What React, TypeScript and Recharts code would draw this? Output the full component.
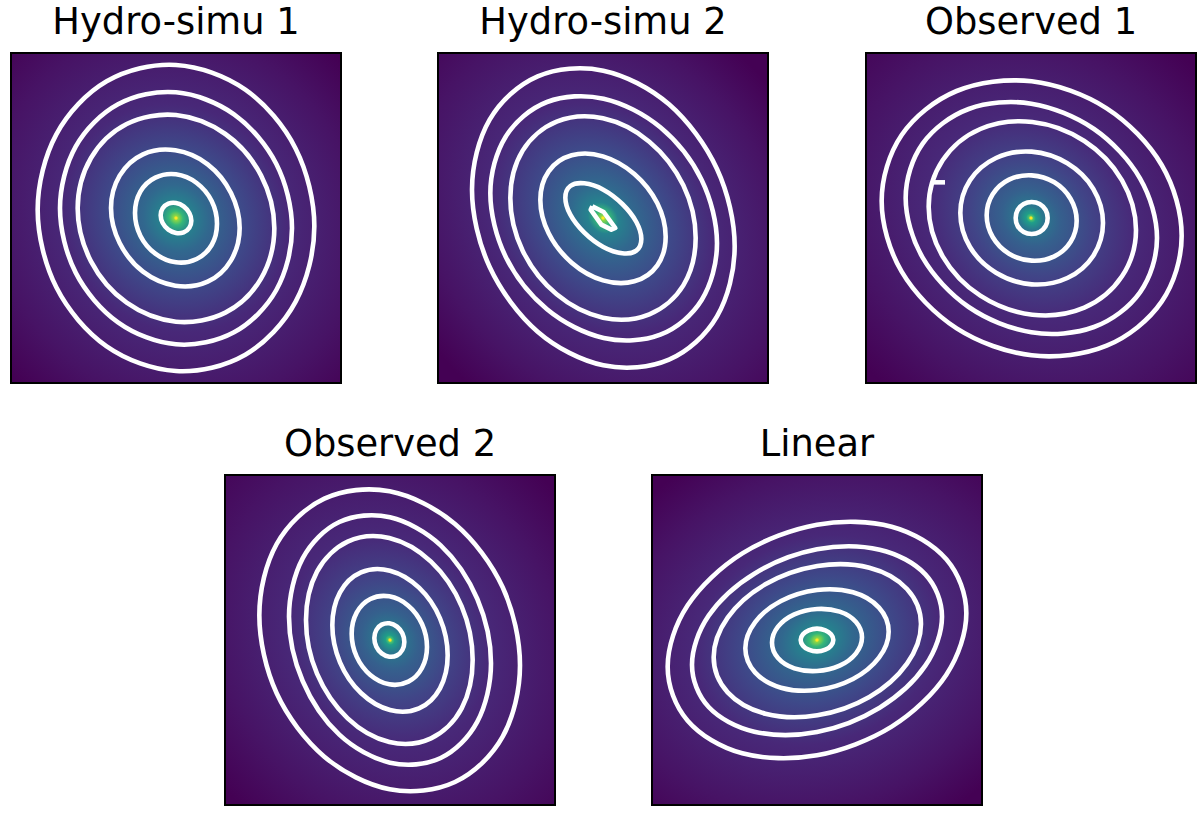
import { ComposedChart, Line, XAxis, YAxis, ReferenceArea, ReferenceDot } from "recharts"

type Pt = [number, number]

// contour points (image units, y grows downward)
const hydro1Rings: Pt[][] = [
  [[925,535],[869,761],[718,920],[510,969],[302,895],[151,718],[95,485],[151,259],[302,100],[510,51],[718,125],[869,302]],
  [[858,541],[811,726],[684,853],[510,889],[336,823],[209,674],[162,481],[209,296],[336,169],[510,133],[684,199],[811,348]],
  [[805,541],[765,692],[658,794],[510,821],[362,764],[255,640],[215,481],[255,330],[362,228],[510,201],[658,258],[765,382]],
  [[701,540],[675,637],[605,701],[508,713],[411,671],[341,585],[315,480],[341,383],[411,319],[508,307],[605,349],[675,435]],
  [[633,527],[617,591],[572,633],[510,643],[448,617],[403,563],[387,495],[403,431],[448,389],[510,379],[572,405],[617,459]],
  [[556,518],[550,539],[533,553],[510,555],[487,545],[470,525],[464,502],[470,481],[487,467],[510,465],[533,475],[550,495]],
]

const hydro2Rings: Pt[][] = [
  [[905,595],[852,805],[708,935],[511,952],[314,851],[170,657],[117,425],[170,215],[314,85],[511,68],[708,169],[852,363]],
  [[852,586],[806,756],[682,860],[512,870],[342,784],[218,626],[172,436],[218,266],[342,162],[512,152],[682,238],[806,396]],
  [[788,570],[751,712],[649,799],[510,809],[371,739],[269,608],[232,450],[269,308],[371,221],[510,211],[649,281],[751,412]],
  [[698,566],[673,652],[604,700],[510,697],[416,644],[347,556],[322,456],[347,370],[416,322],[510,325],[604,378],[673,466]],
  [[625,573],[610,608],[568,616],[511,597],[454,554],[412,500],[397,449],[412,414],[454,406],[511,425],[568,468],[610,522]],
]
const hydro2Core: Pt[] = [[478,475],[512,492],[547,540],[535,545],[505,530],[473,485],[478,475]]

const observed1Rings: Pt[][] = [
  [[962,563],[902,761],[737,893],[512,922],[287,841],[122,671],[62,459],[122,261],[287,129],[512,100],[737,181],[902,351]],
  [[888,570],[837,733],[699,837],[511,853],[323,777],[185,629],[134,450],[185,287],[323,183],[511,167],[699,243],[837,391]],
  [[825,546],[783,685],[670,779],[514,800],[358,743],[245,625],[203,476],[245,337],[358,243],[514,222],[670,279],[783,397]],
  [[726,525],[697,623],[619,690],[512,709],[405,674],[327,597],[298,495],[327,397],[405,330],[512,311],[619,346],[697,423]],
  [[647,518],[629,581],[580,625],[512,638],[444,617],[395,567],[377,502],[395,439],[444,395],[512,382],[580,403],[629,453]],
  [[560,510],[554,534],[536,552],[512,558],[488,552],[470,534],[464,510],[470,486],[488,468],[512,462],[536,468],[554,486]],
]
const observed1Stub: Pt[] = [[215,403],[252,403]]

const observed2Rings: Pt[][] = [
  [[900,586],[848,800],[705,936],[509,958],[313,860],[170,670],[118,436],[170,222],[313,86],[509,64],[705,162],[848,352]],
  [[813,580],[772,755],[662,864],[510,878],[358,794],[248,633],[207,440],[248,265],[358,156],[510,142],[662,226],[772,387]],
  [[758,570],[725,715],[633,805],[508,816],[383,745],[291,611],[258,450],[291,305],[383,215],[508,204],[633,275],[725,409]],
  [[683,556],[660,655],[597,715],[510,720],[423,669],[360,577],[337,466],[360,367],[423,307],[510,302],[597,353],[660,445]],
  [[621,531],[606,594],[565,635],[508,643],[451,615],[410,560],[395,491],[410,428],[451,387],[508,379],[565,407],[606,462]],
  [[553,516],[547,540],[531,556],[508,560],[485,550],[469,530],[463,504],[469,480],[485,464],[508,460],[531,470],[547,490]],
]

const linearRings: Pt[][] = [
  [[958,430],[898,614],[734,770],[510,856],[286,850],[122,752],[62,590],[122,406],[286,250],[510,164],[734,170],[898,268]],
  [[885,440],[835,587],[698,713],[510,786],[322,785],[185,711],[135,584],[185,437],[322,311],[510,238],[698,239],[835,313]],
  [[822,462],[780,581],[667,681],[511,736],[355,731],[242,667],[200,562],[242,443],[355,343],[511,288],[667,293],[780,357]],
  [[725,485],[696,563],[618,627],[510,660],[402,653],[324,607],[295,535],[324,457],[402,393],[510,360],[618,367],[696,413]],
  [[645,502],[627,550],[578,587],[510,603],[442,595],[393,564],[375,518],[393,470],[442,433],[510,417],[578,425],[627,456]],
  [[559,510],[552,527],[535,539],[510,544],[485,539],[468,527],[461,510],[468,493],[485,481],[510,476],[535,481],[552,493]],
]

// radial profiles of the image: [offset, colour]
const broadStops: [number, string][] = [[0,"#fde725"],[0.01,"#8bd646"],[0.03,"#35b779"],[0.065,"#26828e"],[0.14,"#31688e"],[0.29,"#3e4989"],[0.48,"#482878"],[0.78,"#471365"],[1,"#440154"]]
const narrowStops: [number, string][] = [[0,"#fde725"],[0.01,"#4ac16d"],[0.02,"#1f9e89"],[0.05,"#2a788e"],[0.12,"#35608d"],[0.25,"#414487"],[0.43,"#482878"],[0.75,"#471365"],[1,"#440154"]]

// closed catmull-rom, so the rings have no seam
function closedCurve(context: any) {
  let pts: Pt[] = []
  return {
    areaStart() {},
    areaEnd() {},
    lineStart() { pts = [] },
    point(x: number, y: number) { pts.push([x, y]) },
    lineEnd() {
      const n = pts.length
      const at = (i: number) => pts[(i + n) % n]
      context.moveTo(pts[0][0], pts[0][1])
      for (let i = 0; i < n; i++) {
        const [p0, p1, p2, p3] = [at(i - 1), at(i), at(i + 1), at(i + 2)]
        context.bezierCurveTo(
          p1[0] + (p2[0] - p0[0]) / 6,
          p1[1] + (p2[1] - p0[1]) / 6,
          p2[0] - (p3[0] - p1[0]) / 6,
          p2[1] - (p3[1] - p1[1]) / 6,
          p2[0],
          p2[1]
        )
      }
      context.closePath()
    },
  }
}

const toRows = (pts: Pt[]) => pts.map(([x, y]) => ({ x, y }))

const DOMAIN: [number, number] = [18, 1002]
const SIZE = 328

interface PanelProps {
  id: string
  title: string
  left: number
  top: number
  rings: Pt[][]
  stops: [number, string][]
  transform: string
  extra?: Pt[][]
}

function Panel({ id, title, left, top, rings, stops, transform, extra = [] }: PanelProps) {
  return (
    <>
      <div
        style={{
          position: "absolute",
          left: left - 40,
          width: SIZE + 84,
          top: top - 50,
          textAlign: "center",
          fontFamily: "DejaVu Sans",
          fontSize: 36.8,
          lineHeight: "40px",
          color: "#000",
        }}
      >
        {title}
      </div>
      <div style={{ position: "absolute", left, top, width: SIZE, height: SIZE, border: "2px solid #000" }}>
        <ComposedChart width={SIZE} height={SIZE} margin={{ top: 0, right: 0, bottom: 0, left: 0 }}>
          <defs>
            <radialGradient id={id} cx="0.5" cy="0.5" r="0.72" gradientTransform={transform}>
              {stops.map(([offset, color]) => (
                <stop key={offset} offset={offset} stopColor={color} />
              ))}
            </radialGradient>
          </defs>
          <XAxis type="number" dataKey="x" domain={DOMAIN} hide allowDataOverflow />
          <YAxis type="number" dataKey="y" domain={DOMAIN} reversed hide allowDataOverflow />
          <ReferenceArea x1={DOMAIN[0]} x2={DOMAIN[1]} y1={DOMAIN[0]} y2={DOMAIN[1]} fill={`url(#${id})`} fillOpacity={1} stroke="none" />
          {rings.map((ring, i) => (
            <Line
              key={i}
              data={toRows(ring)}
              dataKey="y"
              type={closedCurve as any}
              stroke="#fff"
              strokeWidth={4.6}
              dot={false}
              activeDot={false}
              isAnimationActive={false}
            />
          ))}
          {extra.map((seg, i) => (
            <Line
              key={`x${i}`}
              data={toRows(seg)}
              dataKey="y"
              type="linear"
              stroke="#fff"
              strokeWidth={4.6}
              strokeLinejoin="round"
              dot={false}
              activeDot={false}
              isAnimationActive={false}
            />
          ))}
          <ReferenceDot x={510} y={510} r={1.5} fill="#fde725" stroke="none" />
        </ComposedChart>
      </div>
    </>
  )
}

export default function App() {
  return (
    <div style={{ position: "absolute", left: 0, top: 0, width: 1200, height: 814, background: "#fff", overflow: "hidden" }}>
      <Panel id="g1" title="Hydro-simu 1" left={10} top={52} rings={hydro1Rings} stops={broadStops}
        transform="translate(.5 .5) rotate(50) scale(1.04 .96) translate(-.5 -.5)" />
      <Panel id="g2" title="Hydro-simu 2" left={437} top={52} rings={hydro2Rings} stops={broadStops}
        transform="translate(.5 .5) rotate(50) scale(1.1 .9) translate(-.5 -.5)" extra={[hydro2Core]} />
      <Panel id="g3" title="Observed 1" left={865} top={52} rings={observed1Rings} stops={narrowStops}
        transform="translate(.5 .5) rotate(40) scale(1.08 .94) translate(-.5 -.5)" extra={[observed1Stub]} />
      <Panel id="g4" title="Observed 2" left={224} top={474} rings={observed2Rings} stops={narrowStops}
        transform="translate(.5 .5) rotate(55) scale(1.08 .94) translate(-.5 -.5)" />
      <Panel id="g5" title="Linear" left={651} top={474} rings={linearRings} stops={broadStops}
        transform="translate(.5 .5) rotate(-20) scale(1.1 .9) translate(-.5 -.5)" />
    </div>
  )
}
